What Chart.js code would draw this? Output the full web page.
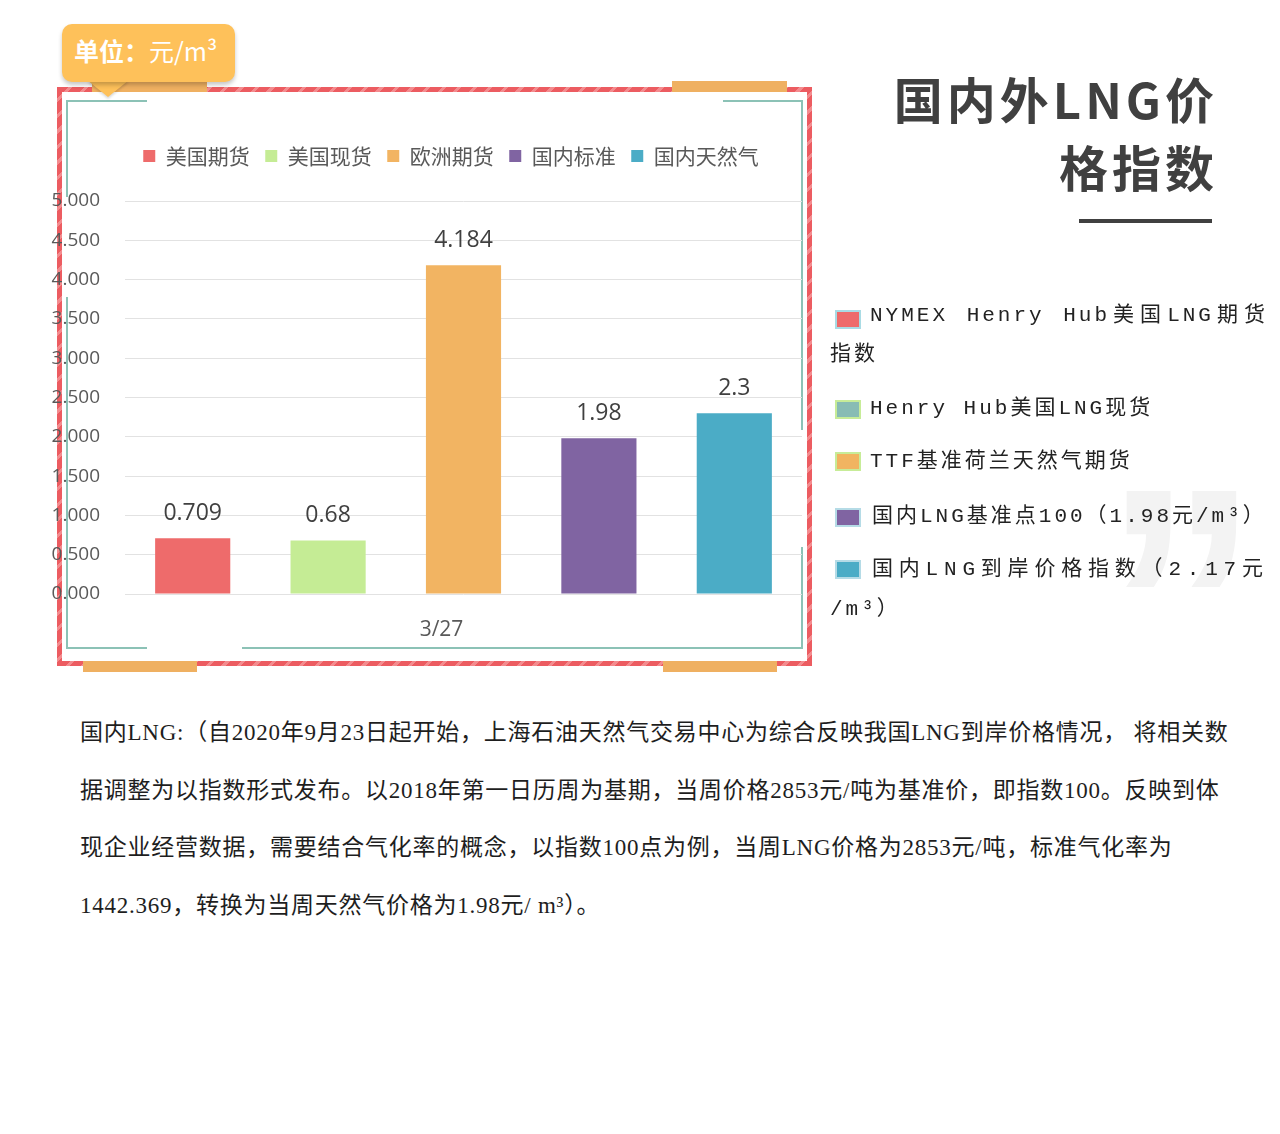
<!DOCTYPE html>
<html>
<head>
<meta charset="utf-8">
<script src="https://cdn.jsdelivr.net/npm/chart.js@4/dist/chart.umd.min.js"></script>
<style>
  html, body { margin:0; padding:0; background:#fff; }
  body { width:1280px; height:1134px; position:relative; overflow:hidden; font-family:"Noto Sans CJK SC", sans-serif; }
  .abs { position:absolute; }
  #redframe { left:57px; top:87px; width:755px; height:579px;
    background: repeating-linear-gradient(-45deg, #ec5c61 0 8px, #f38b8e 8px 11px); }
  #redinner { left:62px; top:92px; width:745px; height:569px; background:#fff; }
  .tab { background:#efb061; height:11px; }
  .teal { background:#8cc2b6; }
  #badge { left:62px; top:24px; width:173px; height:58px; background:#fec15a; border-radius:10px;
    box-shadow:0 3px 4px rgba(0,0,0,0.22); color:#fff; font-size:25px; line-height:52px; }
  #badge .t { position:absolute; left:12px; top:0; white-space:nowrap; }
  #pointer { left:87px; top:80px; width:0; height:0; border-left:21px solid transparent; border-right:21px solid transparent; border-top:17px solid #fec15a; filter: drop-shadow(0 2px 1px rgba(0,0,0,0.15)); }
  #chartwrap { left:40px; top:130px; width:822px; height:530px; }
  .title { right:66px; color:#404040; font-weight:700; font-size:49px; letter-spacing:4px; white-space:nowrap; line-height:60px; }
  #uline { left:1079px; top:219px; width:133px; height:4px; background:#404040; }
  #quote { left:1103px; top:437px; font-family:"Liberation Sans", sans-serif; font-weight:700; font-size:340px; line-height:340px; color:#f3f3f3; transform:scaleX(0.92); transform-origin:0 0; }
  .lg { color:#222; font-family:"Liberation Mono", "Noto Sans CJK SC", monospace; font-size:21px; letter-spacing:3px; white-space:nowrap; line-height:30px; }
  .sw { width:22px; height:15px; border:2px solid; }
  #para { left:80px; top:704px; width:1180px; font-family:"Liberation Serif", "Noto Sans CJK SC", serif; font-size:23px; letter-spacing:0.75px; line-height:57.5px; color:#1e1e1e; white-space:nowrap; }
</style>
</head>
<body>
<!-- frame decorations -->
<div id="redframe" class="abs"></div>
<div id="redinner" class="abs"></div>
<div class="abs tab" style="left:92px;top:81px;width:115px;"></div>
<div class="abs tab" style="left:672px;top:81px;width:115px;"></div>
<div class="abs tab" style="left:83px;top:661px;width:114px;"></div>
<div class="abs tab" style="left:663px;top:661px;width:114px;"></div>
<div class="abs teal" style="left:66px;top:100px;width:81px;height:2px;"></div>
<div class="abs teal" style="left:723px;top:100px;width:80px;height:2px;"></div>
<div class="abs teal" style="left:66px;top:100px;width:2px;height:97px;"></div>
<div class="abs teal" style="left:66px;top:297px;width:2px;height:352px;"></div>
<div class="abs teal" style="left:801px;top:100px;width:2px;height:330px;"></div>
<div class="abs teal" style="left:801px;top:547px;width:2px;height:102px;"></div>
<div class="abs teal" style="left:66px;top:647px;width:81px;height:2px;"></div>
<div class="abs teal" style="left:242px;top:647px;width:561px;height:2px;"></div>

<div id="pointer" class="abs"></div>
<div id="badge" class="abs"><span class="t"><b>单位：</b>元/m³</span></div>

<div id="chartwrap" class="abs"><canvas id="c" width="822" height="530"></canvas></div>

<div id="quote" class="abs">”</div>

<div class="abs title" style="top:68px;margin-right:-4px;">国内外LNG价</div>
<div class="abs title" style="top:136px;margin-right:-4px;">格指数</div>
<div id="uline" class="abs"></div>

<!-- right legend -->
<div class="abs sw" style="left:835px;top:310px;background:#ee6b6b;border-color:#a9dbe4;"></div>
<div class="abs lg" style="left:870px;top:301px;width:398px;text-align:justify;text-align-last:justify;">NYMEX  Henry  Hub美国LNG期货</div>
<div class="abs lg" style="left:830px;top:340px;">指数</div>
<div class="abs sw" style="left:835px;top:400px;background:#88bcb4;border-color:#c7ec98;"></div>
<div class="abs lg" style="left:870px;top:394px;">Henry Hub美国LNG现货</div>
<div class="abs sw" style="left:835px;top:452px;background:#f1b461;border-color:#c7ec98;"></div>
<div class="abs lg" style="left:870px;top:447px;">TTF基准荷兰天然气期货</div>
<div class="abs sw" style="left:835px;top:508px;background:#8064a2;border-color:#b5dbe6;"></div>
<div class="abs lg" style="left:872px;top:502px;">国内LNG基准点100（1.98元/m³）</div>
<div class="abs sw" style="left:835px;top:560px;background:#4bacc6;border-color:#b5dbe6;"></div>
<div class="abs lg" style="left:872px;top:555px;letter-spacing:5.8px;">国内LNG到岸价格指数（2.17元</div>
<div class="abs lg" style="left:830px;top:595px;">/m³）</div>

<div id="para" class="abs">国内LNG:（自2020年9月23日起开始，上海石油天然气交易中心为综合反映我国LNG到岸价格情况， 将相关数<br>据调整为以指数形式发布。以2018年第一日历周为基期，当周价格2853元/吨为基准价，即指数100。反映到体<br>现企业经营数据，需要结合气化率的概念，以指数100点为例，当周LNG价格为2853元/吨，标准气化率为<br>1442.369，转换为当周天然气价格为1.98元/ m³）。</div>

<script>
// ---- data ----
const categories = ["3/27"];
const seriesNames = ["美国期货", "美国现货", "欧洲期货", "国内标准", "国内天然气"];
const usFutures = [0.709];
const usSpot = [0.68];
const euFutures = [4.184];
const cnStandard = [1.98];
const cnGas = [2.3];
const seriesColors = ["#ee6b6b", "#c5ec95", "#f2b462", "#8064a2", "#4bacc6"];
const yTickMin = 0, yTickMax = 5, yTickStep = 0.5;

const seriesValues = [usFutures, usSpot, euFutures, cnStandard, cnGas];

const valueLabels = {
  id: 'valueLabels',
  afterDatasetsDraw(chart) {
    const ctx = chart.ctx;
    ctx.save();
    ctx.font = '23px "Open Sans"';
    ctx.fillStyle = '#404040';
    ctx.textAlign = 'center';
    ctx.textBaseline = 'middle';
    chart.data.datasets.forEach((ds, i) => {
      const meta = chart.getDatasetMeta(i);
      meta.data.forEach((el, j) => {
        ctx.fillText(String(ds.data[j]), el.x, el.y - 25);
      });
    });
    ctx.restore();
  }
};

new Chart(document.getElementById('c'), {
  type: 'bar',
  data: {
    labels: categories,
    datasets: seriesNames.map((n, i) => ({
      label: n,
      data: seriesValues[i],
      backgroundColor: seriesColors[i],
      borderWidth: 0,
      barPercentage: 0.555,
      categoryPercentage: 1.0
    }))
  },
  options: {
    responsive: false,
    animation: false,
    devicePixelRatio: 1,
    layout: { padding: 0 },
    plugins: {
      legend: {
        position: 'top',
        labels: {
          boxWidth: 12, boxHeight: 12, padding: 15.5, color: '#595959',
          font: { family: '"Noto Sans CJK SC"', size: 21 }
        }
      },
      title: {
        display: true, text: '', weight: 500, position: 'top',
        font: { size: 10, lineHeight: 1 }, padding: { top: 7, bottom: 7.5 }
      },
      tooltip: { enabled: false }
    },
    scales: {
      x: {
        grid: { display: false, drawTicks: false },
        border: { display: false },
        ticks: { color: '#595959', font: { family: '"Open Sans"', size: 21 }, padding: 23, labelOffset: -22 },
        afterFit(s) { s.height = 66; }
      },
      y: {
        min: yTickMin, max: yTickMax,
        ticks: { stepSize: yTickStep, callback: v => Number(v).toFixed(3), color: '#595959',
          font: { family: '"Open Sans"', size: 19 }, padding: 25 },
        grid: { color: '#e2e2e2', drawTicks: false },
        border: { display: false },
        afterFit(s) { s.width = 85; }
      },
      yr: {
        type: 'linear', position: 'right', min: 0, max: 1,
        grid: { display: false, drawTicks: false },
        border: { display: false },
        ticks: { display: false },
        afterFit(s) { s.width = 60; }
      }
    }
  },
  plugins: [valueLabels]
});
</script>
</body>
</html>
